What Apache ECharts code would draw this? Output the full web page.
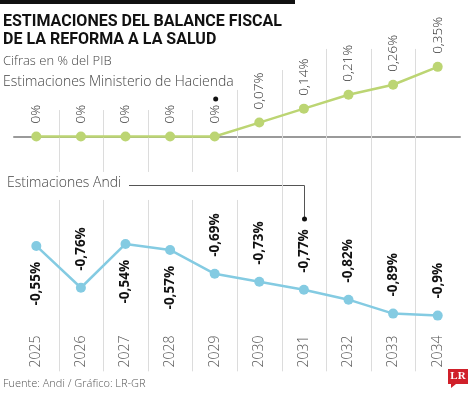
<!DOCTYPE html>
<html><head><meta charset="utf-8">
<script src="https://cdn.jsdelivr.net/npm/echarts@6/dist/echarts.min.js"></script>
<style>html,body{margin:0;padding:0;background:#fff}#c{width:474px;height:395px}</style>
</head><body><div id="c"></div>
<script>
const years = ['2025','2026','2027','2028','2029','2030','2031','2032','2033','2034'];
const hacienda = [0, 0, 0, 0, 0, 0.07, 0.14, 0.21, 0.26, 0.35];
const andi = [-0.55, -0.76, -0.54, -0.57, -0.69, -0.73, -0.77, -0.82, -0.89, -0.9];
// vertical divider segments between columns: [boundary index, from value, to value]
const dividers = [
  [0, 0.133, -0.178], [0, -0.319, -1.18],
  [1, 0.133, -0.178], [1, -0.319, -1.18],
  [2, 0.133, -0.178], [2, -0.319, -1.18],
  [3, 0.133, -0.178], [3, -0.319, -1.18],
  [4, 0.234, -0.178], [4, -0.319, -1.18],
  [5, 0.334, -1.18],
  [6, 0.44, -1.18],
  [7, 0.44, -1.18],
  [8, 0.44, -1.18]
];

const LIGHT = "'Open Sans', 'Noto Sans', sans-serif";
const fmt = v => String(v).replace('.', ',') + '%';

const chart = echarts.init(document.getElementById('c'), null, {renderer: 'canvas'});
const option = {
  animation: false,
  grid: {left: 14, right: 14, top: 37, bottom: 59.5},
  xAxis: [
    {type: 'category', data: years, boundaryGap: true,
     axisLine: {onZero: true, lineStyle: {color: '#9a9a9a', width: 2}},
     axisTick: {show: false}, axisLabel: {show: false}, splitLine: {show: false}},
    {type: 'category', data: years, position: 'bottom', boundaryGap: true,
     axisLine: {show: false}, axisTick: {show: false}, splitLine: {show: false},
     axisLabel: {rotate: 90, margin: 0, color: '#555', fontSize: 14, fontFamily: LIGHT, fontWeight: 300}}
  ],
  yAxis: {type: 'value', min: -1.0, max: 0.5, show: false, splitLine: {show: false}},
  series: [
    {type: 'custom', xAxisIndex: 0, clip: false, z: 1, silent: true,
     data: dividers,
     renderItem: function (params, api) {
       const p1 = api.coord([api.value(0), api.value(1)]);
       const p2 = api.coord([api.value(0), api.value(2)]);
       const half = api.size([1, 0])[0] / 2;
       const x = Math.round(p1[0] + half) + 0.5;
       return {type: 'line', shape: {x1: x, y1: p1[1], x2: x, y2: p2[1]},
               style: {stroke: '#dcdcdc', lineWidth: 1}};
     }},
    {type: 'line', name: 'Hacienda', data: hacienda, xAxisIndex: 0, z: 5,
     symbol: 'circle', symbolSize: 10,
     lineStyle: {color: '#bcd573', width: 2.5}, itemStyle: {color: '#bcd573'},
     label: {show: true, position: 'top', distance: 8, rotate: 90, align: 'left', verticalAlign: 'middle',
             color: '#333', fontSize: 13.5, fontFamily: LIGHT, fontWeight: 300,
             formatter: p => fmt(p.value)}},
    {type: 'line', name: 'Andi', xAxisIndex: 0, z: 5,
     data: andi.map(v => ({value: v,
       label: v > -0.6
         ? {position: 'bottom', distance: 11, align: 'right'}
         : {position: 'top', distance: 12, align: 'left'}})),
     symbol: 'circle', symbolSize: 10,
     lineStyle: {color: '#84cbe2', width: 2.5}, itemStyle: {color: '#84cbe2'},
     label: {show: true, rotate: 90, verticalAlign: 'middle',
             color: '#111', fontSize: 13.5, fontWeight: 'bold', fontFamily: "'Open Sans', sans-serif",
             formatter: p => fmt(p.value)}}
  ]
};
chart.setOption(option);

const ptH = chart.convertToPixel({xAxisIndex: 0, yAxisIndex: 0}, [4, 0]);
const ptA = chart.convertToPixel({xAxisIndex: 0, yAxisIndex: 0}, [6, 0]);
chart.setOption({
  graphic: [
    {type: 'rect', shape: {x: 0, y: 0, width: 295, height: 4}, style: {fill: '#111'}},
    {type: 'text', x: 3, y: 14, style: {text: 'ESTIMACIONES DEL BALANCE FISCAL', fill: '#111',
      font: "bold 16px 'Liberation Sans Narrow', 'Roboto', sans-serif"}},
    {type: 'text', x: 3, y: 32, style: {text: 'DE LA REFORMA A LA SALUD', fill: '#111',
      font: "bold 16px 'Liberation Sans Narrow', 'Roboto', sans-serif"}},
    {type: 'text', x: 3, y: 55, style: {text: 'Cifras en % del PIB', fill: '#444',
      font: "300 13px 'Open Sans', sans-serif"}},
    {type: 'text', x: 3, y: 75, style: {text: 'Estimaciones Ministerio de Hacienda', fill: '#444',
      font: "300 14px 'Open Sans', sans-serif"}},
    {type: 'circle', shape: {cx: ptH[0] + 1, cy: 99, r: 2.5}, style: {fill: '#111'}},
    {type: 'text', x: 7, y: 176, style: {text: 'Estimaciones Andi', fill: '#444',
      font: "300 14px 'Open Sans', sans-serif"}},
    {type: 'polyline', shape: {points: [[129, 185.5], [Math.round(ptA[0]) + 0.5, 185.5], [Math.round(ptA[0]) + 0.5, 219]]},
      style: {stroke: '#555', lineWidth: 1, fill: null}},
    {type: 'circle', shape: {cx: Math.round(ptA[0]) + 0.5, cy: 219, r: 2.5}, style: {fill: '#111'}},
    {type: 'text', x: 3, y: 378, style: {text: 'Fuente: Andi / Gráfico: LR-GR', fill: '#555',
      font: "300 11px 'Open Sans', sans-serif"}},
    {type: 'rect', shape: {x: 448, y: 369, width: 20, height: 15}, style: {fill: '#d0202a'}},
    {type: 'polygon', shape: {points: [[451, 384], [456, 384], [451, 388]]}, style: {fill: '#d0202a'}},
    {type: 'text', x: 458, y: 376.5, style: {text: 'LR', fill: '#fff', align: 'center', verticalAlign: 'middle',
      font: "bold 11px 'Liberation Serif', 'DejaVu Serif', serif"}}
  ]
});
</script>
</body></html>
